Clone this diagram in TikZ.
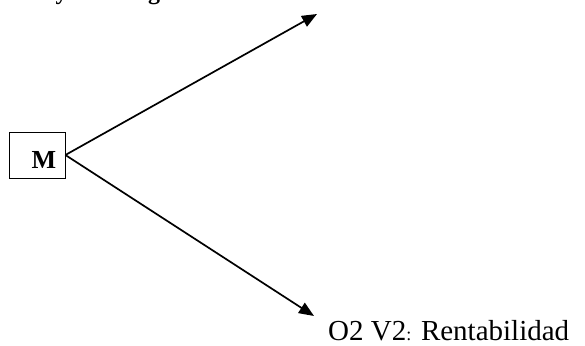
\documentclass[tikz,border=0pt]{standalone}
\usepackage{fontspec}
\setmainfont{Liberation Serif}
\usetikzlibrary{positioning, arrows.meta, calc}

\tikzset{
  sample/.style={draw, line width=0.8pt, minimum width=56pt, minimum height=46pt, inner sep=0pt},
  branch/.style={line width=1.7pt, -{Triangle[length=15pt,width=12pt]}},
}

\begin{document}
\begin{tikzpicture}[x=1pt, y=-1pt]
			\useasboundingbox (0,0) rectangle (585,345);
			\node[anchor=base west, inner sep=0pt, font=\fontsize{24}{28}\selectfont\bfseries] (title) at (-20,0) {Diseño y Estrategia};
			\node[sample] (m) at (37,155) {};
			\node[anchor=base, inner sep=0pt, font=\fontsize{26}{30}\selectfont\bfseries] (mtext) at (44,168) {M};
			\coordinate (o1) at (317,14);
			\coordinate (o2) at (314,316);
			\node[anchor=base west, inner sep=0pt, font=\fontsize{29}{33}\selectfont] (o2text) at (328,340) {O2 V2{\fontsize{18}{20}\selectfont:} Rentabilidad};
			
			\draw[branch] (m.east) -- (o1);
			\draw[branch] (m.east) -- (o2);
		\end{tikzpicture}
\end{document}
